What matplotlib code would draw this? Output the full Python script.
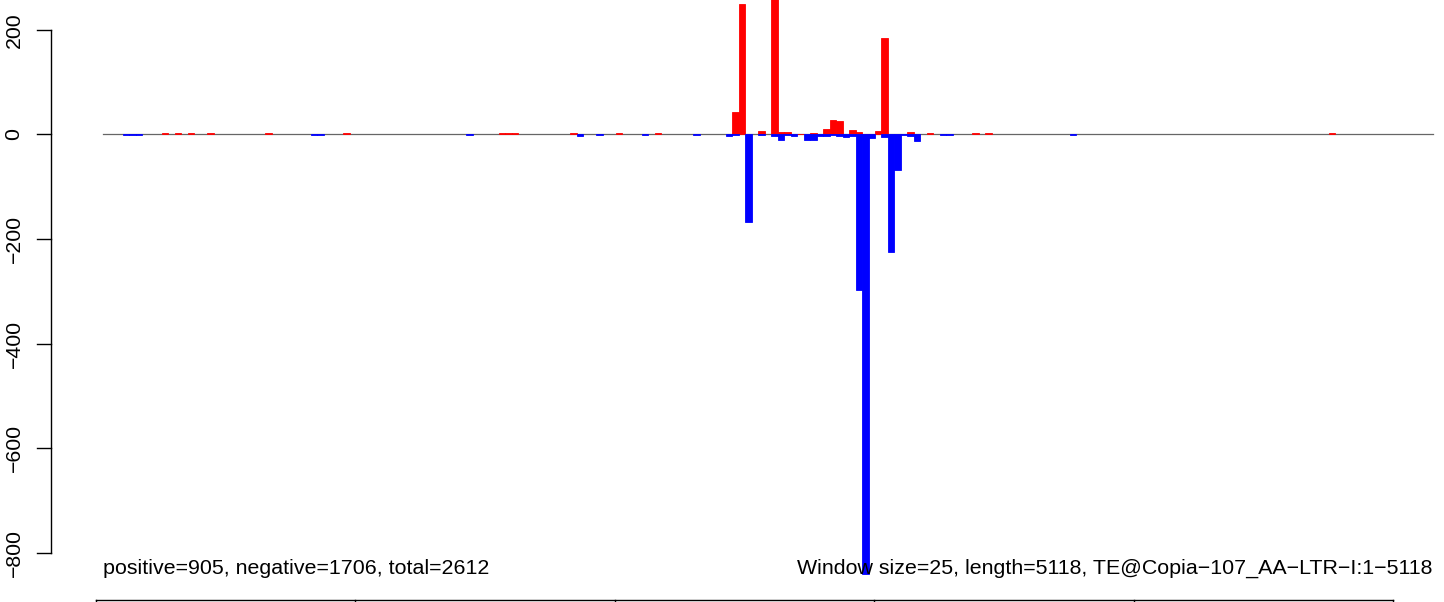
import matplotlib
matplotlib.use("Agg")
import matplotlib.pyplot as plt

# window index (25 bp windows) -> read counts
pos_idx = [9, 11, 13, 16, 25, 37, 61, 62, 63, 72, 79, 85, 97, 98, 101, 103, 104, 105,
           106, 107, 109, 111, 112, 113, 115, 116, 117, 118, 119, 120, 124, 127, 134, 136, 189]
pos_val = [2, 2, 2, 2, 2, 2, 2, 2, 2, 2, 2, 2, 43, 249, 6, 297, 5, 4,
           1, 1, 3, 10, 27, 25, 8, 4, 1, 1, 6, 185, 4, 2, 2, 2, 2]
neg_idx = [3, 4, 5, 32, 33, 56, 73, 76, 83, 91, 96, 97, 99, 101, 103, 104, 105, 106,
           108, 109, 110, 111, 112, 113, 114, 115, 116, 117, 118, 120, 121, 122, 123,
           124, 125, 129, 130, 149]
neg_val = [-1, -1, -1, -1, -1, -1, -3, -1, -1, -1, -3, -1, -168, -1, -3, -11, -2, -4,
           -11, -11, -4, -3, -1, -4, -6, -4, -298, -840, -8, -6, -226, -68, -1,
           -3, -13, -1, -1, -1]
n_windows = 205

yticks = [200, 0, -200, -400, -600, -800]
left_text = "positive=905, negative=1706, total=2612"
right_text = "Window size=25, length=5118, TE@Copia\u2212107_AA\u2212LTR\u2212I:1\u22125118"

W, H = 1444, 602
x0_px, bw_px = 103.3, 6.485     # pixel of window 0, pixel width of one window
y0_px, ppu = 134.3, 0.523       # pixel row of y=0, pixels per count


def xd(px):
    return (px - x0_px) / bw_px


def yd(py):
    return (y0_px - py) / ppu


plt.rcParams['font.family'] = ['Liberation Sans', 'DejaVu Sans']
fig = plt.figure(figsize=(W / 100, H / 100), dpi=100)
ax = fig.add_axes([0, 0, 1, 1])
ax.set_xlim(xd(0), xd(W))
ax.set_ylim(yd(H), yd(0))
ax.axis("off")

ax.plot([0, n_windows], [0, 0], color="#666666", lw=0.9, zorder=1)
# border in the fill colour, like R barplot(col=, border=col)
ax.bar(pos_idx, pos_val, width=1, align="edge", color="red", edgecolor="red",
       linewidth=0.6, zorder=2)
ax.bar(neg_idx, neg_val, width=1, align="edge", color="blue", edgecolor="blue",
       linewidth=0.6, zorder=2)

# y axis, R style
ax_x = xd(50.7)
tick_len = xd(50.7) - xd(37)
ax.plot([ax_x, ax_x], [yticks[0], yticks[-1]], color="black", lw=1.0, clip_on=False)
for t in yticks:
    ax.plot([ax_x - tick_len, ax_x], [t, t], color="black", lw=1.0)
    ax.text(xd(14), t, str(t).replace("-", "\u2212"), rotation=90,
            ha="center", va="center", fontsize=15.3)

# x axis line at the bottom edge, labels fall outside the picture
xa0, xa1 = xd(96), xd(1393.3)
ax.plot([xa0, xa1], [yd(599.5), yd(599.5)], color="black", lw=1.0, clip_on=False)
for k in range(6):
    xt = xa0 + k * (xa1 - xa0) / 5
    ax.plot([xt, xt], [yd(599.5), yd(610)], color="black", lw=1.0, clip_on=False)

ax.text(0, yd(568), left_text, ha="left", va="center", fontsize=15.4)
ax.text(n_windows, yd(568), right_text, ha="right", va="center", fontsize=15.4)

fig.savefig("out.png", dpi=100)
